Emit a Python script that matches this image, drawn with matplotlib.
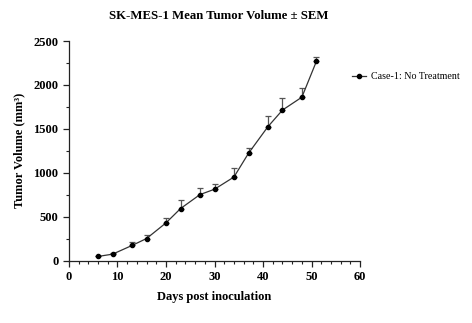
import matplotlib
matplotlib.use("Agg")
import matplotlib.pyplot as plt
from matplotlib.ticker import MultipleLocator
from matplotlib.lines import Line2D

days = [6, 9, 13, 16, 20, 23, 27, 30, 34, 37, 41, 44, 48, 51]
mean_volume = [48, 74, 173, 252, 430, 593, 752, 813, 952, 1222, 1525, 1714, 1861, 2270]
sem = [8, 10, 41, 45, 61, 95, 80, 60, 103, 60, 120, 136, 103, 46]
series_label = "Case-1: No Treatment"

plt.rcParams['font.family'] = ['Liberation Serif', 'DejaVu Serif']

fig = plt.figure(figsize=(4.72, 3.23), dpi=100)
ax = fig.add_axes([0.146, 0.193, 0.617, 0.680])

ax.errorbar(days, mean_volume, yerr=[[0] * len(sem), sem], fmt='-o',
            color='#333333', mfc='black', mec='black', ms=3, lw=0.9,
            ecolor='#555555', elinewidth=0.9, capsize=2, capthick=0.9)

ax.set_xlim(0, 60)
ax.set_ylim(0, 2500)
ax.xaxis.set_major_locator(MultipleLocator(10))
ax.xaxis.set_minor_locator(MultipleLocator(2))
ax.yaxis.set_major_locator(MultipleLocator(500))
ax.yaxis.set_minor_locator(MultipleLocator(250))

for side in ('top', 'right'):
    ax.spines[side].set_visible(False)
for side in ('left', 'bottom'):
    ax.spines[side].set_linewidth(0.9)
    ax.spines[side].set_color('#222222')

ax.tick_params(which='major', direction='out', length=4, width=0.9, colors='#222222', labelsize=9)
ax.tick_params(which='minor', direction='out', length=2.5, width=0.8, colors='#222222')
for lbl in ax.get_xticklabels() + ax.get_yticklabels():
    lbl.set_fontweight('bold')
    lbl.set_color('black')

ax.set_xlabel("Days post inoculation", fontsize=9, fontweight='bold', labelpad=6)
ax.set_ylabel("Tumor Volume (mm³)", fontsize=9, fontweight='bold', labelpad=6)
fig.text(0.463, 0.95, "SK-MES-1 Mean Tumor Volume ± SEM", fontsize=9.2,
         fontweight='bold', ha='center', va='center')

handle = Line2D([], [], color='#333333', lw=0.9, marker='o', ms=3,
                mfc='black', mec='black')
fig.legend([handle], [series_label], loc='center left',
           bbox_to_anchor=(0.727, 0.762), frameon=False,
           fontsize=7.2, handlelength=1.4, handletextpad=0.5)

fig.savefig("out.png", dpi=100)
